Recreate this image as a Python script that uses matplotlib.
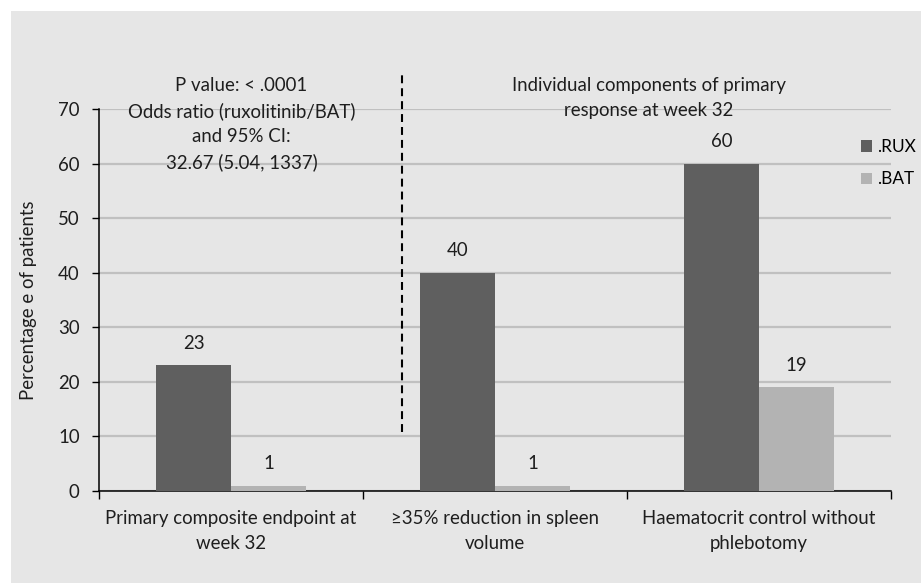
import numpy as np
import matplotlib
matplotlib.use("Agg")
import matplotlib.pyplot as plt
from matplotlib.patches import Rectangle

categories = ["Primary composite endpoint at\nweek 32",
              "\u226535% reduction in spleen\nvolume",
              "Haematocrit control without\nphlebotomy"]
rux = [23, 40, 60]
bat = [1, 1, 19]
series_names = [".RUX", ".BAT"]
left_note = "P value: < .0001\nOdds ratio (ruxolitinib/BAT)\nand 95% CI:\n32.67 (5.04, 1337)"
right_note = "Individual components of primary\nresponse at week 32"

plt.rcParams['font.family'] = ['Lato', 'DejaVu Sans']
fs = 13.4

fig = plt.figure(figsize=(9.21, 5.83), dpi=100)
fig.patches.append(Rectangle((11/921, 0), 1, 1 - 11/583, transform=fig.transFigure,
                             facecolor="#e6e6e6", edgecolor="none", zorder=-10))
ax = fig.add_axes([99/921, 1 - 491/583, (891-99)/921, (491-109)/583])
ax.set_facecolor("none")

x = np.arange(len(categories))
w = 75/264
b1 = ax.bar(x - w/2, rux, width=w, color="#5f5f5f", label=series_names[0], zorder=3)
b2 = ax.bar(x + w/2, bat, width=w, color="#b3b3b3", label=series_names[1], zorder=3)

for bars in (b1, b2):
    for r in bars:
        ax.annotate(f"{r.get_height():g}", (r.get_x() + r.get_width()/2, r.get_height()),
                    xytext=(0, 16), textcoords="offset points", ha="center", va="center",
                    fontsize=fs, color="#1e1e1e")

ax.set_xlim(-0.5, 2.5)
ax.set_ylim(0, 70)
ax.set_yticks(range(0, 71, 10))
ax.yaxis.grid(True, color="#c0c0c0", linewidth=1.6, zorder=0)
ax.set_axisbelow(True)

ax.set_xticks([-0.5, 0.5, 1.5, 2.5])
ax.set_xticklabels([])
ax.set_xticks(x, minor=True)
ax.set_xticklabels(categories, minor=True, fontsize=fs, color="#1e1e1e",
                   linespacing=1.58)
ax.tick_params(axis="x", which="major", length=6, width=1, direction="out")
ax.tick_params(axis="x", which="minor", length=0, pad=13.5)
ax.tick_params(axis="y", length=5, width=1, pad=9, labelsize=fs, labelcolor="#1e1e1e")

for s in ("top", "right"):
    ax.spines[s].set_visible(False)
for s in ("left", "bottom"):
    ax.spines[s].set_linewidth(1.1)
    ax.spines[s].set_color("black")

ax.set_ylabel("Percentage e of patients", fontsize=fs, color="#1e1e1e", labelpad=15)

# divider between composite endpoint and components
ax.plot([0.648, 0.648], [10.8, 77.0], color="black", linewidth=1.5,
        linestyle=(0, (3.8, 2.4)), clip_on=False, zorder=4)

ax.text(0.04, 75.9, left_note, ha="center", va="top", fontsize=fs,
        color="#1e1e1e", linespacing=1.55)
ax.text(1.583, 75.9, right_note, ha="center", va="top", fontsize=fs,
        color="#1e1e1e", linespacing=1.55)

ax.legend(loc="upper left", bbox_to_anchor=(861/921, 1 - 139/583),
          bbox_transform=fig.transFigure, frameon=False, fontsize=12.4,
          handlelength=0.65, handleheight=0.65, handletextpad=0.3,
          labelspacing=0.95, borderpad=0, borderaxespad=0)

fig.savefig("out.png", dpi=100)
